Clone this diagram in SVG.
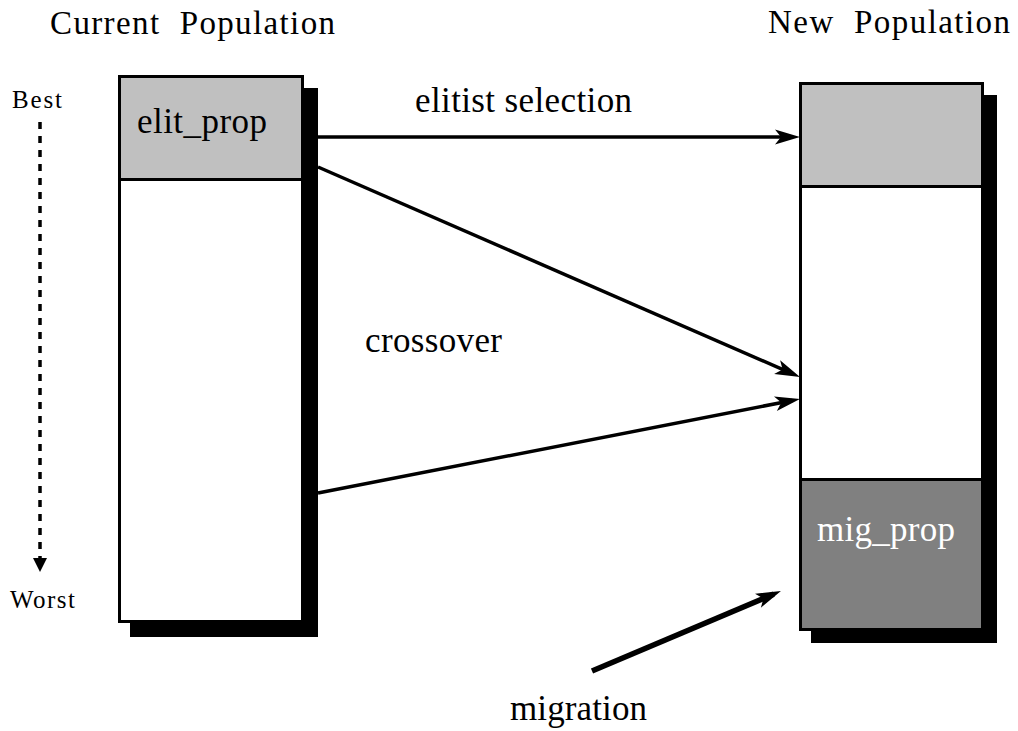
<svg xmlns="http://www.w3.org/2000/svg" width="1018" height="731" viewBox="0 0 1018 731">
<style>
text{font-family:"Liberation Serif","Times New Roman",serif;fill:#000}
.lbl{font-size:35px}
.title{font-size:33px}
.side{font-size:25px}
.box{stroke:#000;stroke-width:3}
.shadow{fill:#000}
.conn{stroke:#000;stroke-width:3.5;fill:none}
</style>
<defs>
<marker id="ah" markerUnits="userSpaceOnUse" markerWidth="25" markerHeight="15" refX="17" refY="7.5" orient="auto" overflow="visible">
<path d="M25,7.5 L0,0 L6,7.5 L0,15 Z" fill="#000"/>
</marker>
</defs>
<rect width="1018" height="731" fill="#fff"/>
<text class="title" x="50" y="34" textLength="285" xml:space="preserve">Current  Population</text>
<text class="title" x="768" y="33" textLength="242" xml:space="preserve">New  Population</text>
<g id="scale">
<text class="side" x="12" y="108" textLength="50">Best</text>
<line x1="40" y1="122" x2="40" y2="558" stroke="#000" stroke-width="3.5" stroke-dasharray="7 7"/>
<polygon points="33,558 47,558 40,572" fill="#000"/>
<text class="side" x="10" y="608" textLength="65">Worst</text>
</g>
<g id="current">
<rect class="shadow" x="130" y="88" width="188" height="549"/>
<rect class="box" x="119.5" y="76.5" width="183" height="545" fill="#fff"/>
<rect class="box" x="119.5" y="76.5" width="183" height="103" fill="#c0c0c0"/>
<text class="lbl" x="137" y="133" textLength="130">elit_prop</text>
</g>
<g id="new">
<rect class="shadow" x="811" y="95" width="186" height="548"/>
<rect class="box" x="800.5" y="83.5" width="182" height="546" fill="#fff"/>
<rect class="box" x="800.5" y="83.5" width="182" height="103" fill="#c0c0c0"/>
<rect class="box" x="800.5" y="479.5" width="182" height="150" fill="#808080"/>
<text class="lbl" x="817" y="541" textLength="138" style="fill:#fff">mig_prop</text>
</g>
<g id="connectors">
<line class="conn" x1="318" y1="137" x2="792" y2="137" marker-end="url(#ah)"/>
<line class="conn" x1="318" y1="167" x2="792.7" y2="373.8" marker-end="url(#ah)"/>
<line class="conn" x1="318" y1="493" x2="792.1" y2="400.5" marker-end="url(#ah)"/>
<line class="conn" x1="592" y1="671" x2="773.6" y2="594.1" style="stroke-width:5.5" marker-end="url(#ah)"/>
</g>
<text class="lbl" x="415" y="112" textLength="217">elitist selection</text>
<text class="lbl" x="365" y="352" textLength="137">crossover</text>
<text class="lbl" x="510" y="720" textLength="137">migration</text>
</svg>
